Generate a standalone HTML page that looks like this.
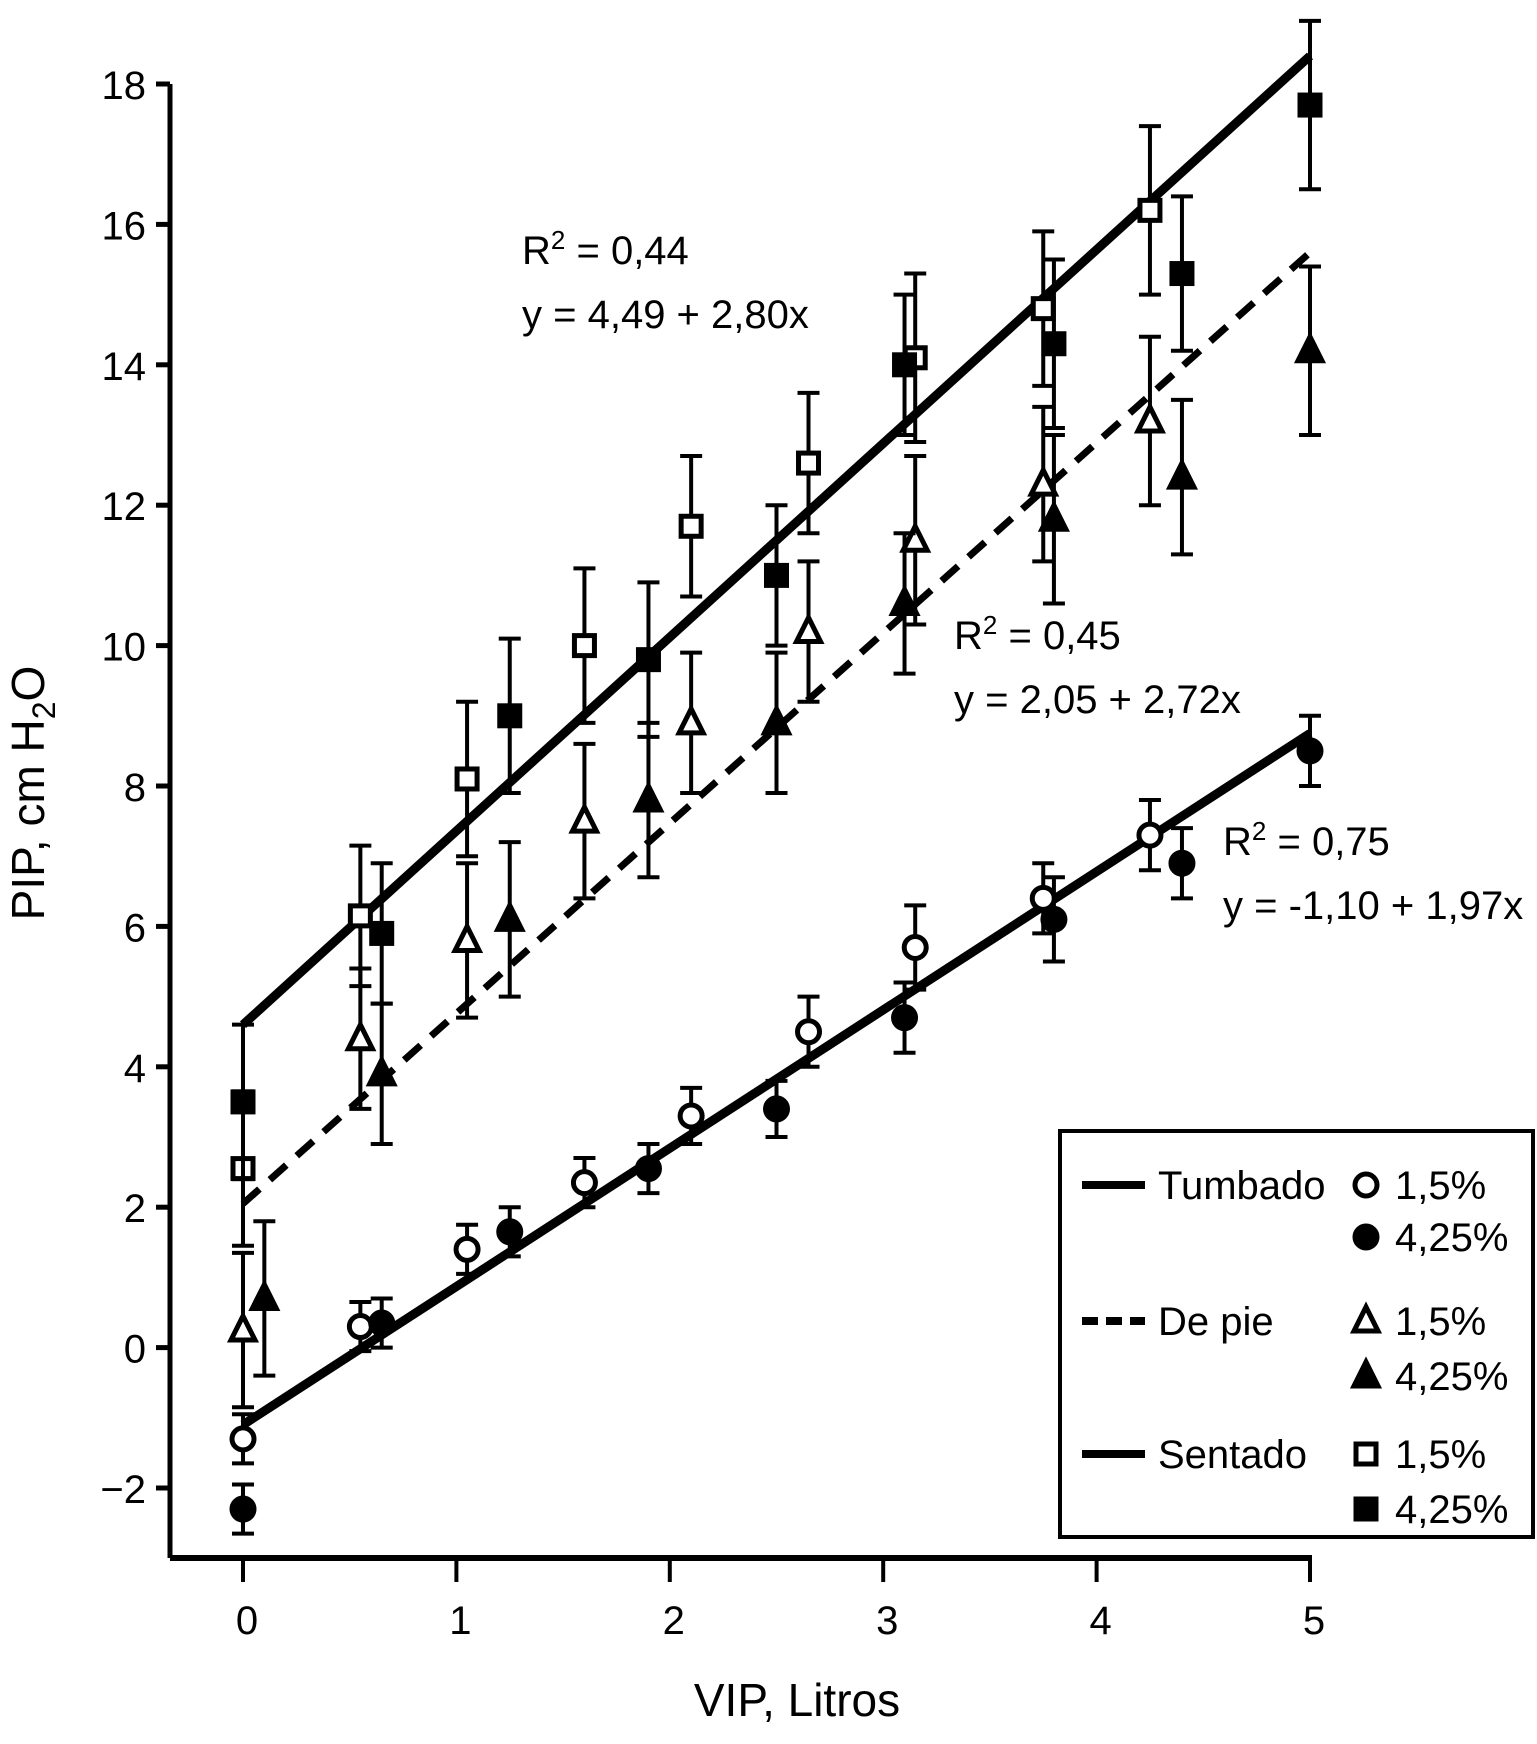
<!DOCTYPE html>
<html><head><meta charset="utf-8"><style>
body{margin:0;background:#fff;}
svg{display:block;font-family:"Liberation Sans",sans-serif;}
</style></head><body>
<svg id="chart" width="1537" height="1744" viewBox="0 0 1537 1744" xmlns="http://www.w3.org/2000/svg"></svg>
<script>
const xTicks=[0,1,2,3,4,5];
const yTicks=[-2,0,2,4,6,8,10,12,14,16,18];
const tumbXs15=[0,0.55,1.05,1.6,2.1,2.65,3.15,3.75,4.25];
const tumbYs15=[-1.3,0.3,1.4,2.35,3.3,4.5,5.7,6.4,7.3];
const tumbXs425=[0,0.65,1.25,1.9,2.5,3.1,3.8,4.4,5];
const tumbYs425=[-2.3,0.35,1.65,2.55,3.4,4.7,6.1,6.9,8.5];
const pieXs15=[0,0.55,1.05,1.6,2.1,2.65,3.15,3.75,4.25];
const pieYs15=[0.25,4.4,5.8,7.5,8.9,10.2,11.5,12.3,13.2];
const pieXs425=[0.1,0.65,1.25,1.9,2.5,3.1,3.8,4.4,5];
const pieYs425=[0.7,3.9,6.1,7.8,8.9,10.6,11.8,12.4,14.2];
const sentXs15=[0,0.55,1.05,1.6,2.1,2.65,3.15,3.75,4.25];
const sentYs15=[2.55,6.15,8.1,10,11.7,12.6,14.1,14.8,16.2];
const sentXs425=[0,0.65,1.25,1.9,2.5,3.1,3.8,4.4,5];
const sentYs425=[3.5,5.9,9,9.8,11,14,14.3,15.3,17.7];
const tumbErr=[0.35,0.35,0.35,0.35,0.4,0.5,0.6,0.5,0.5];
const bigErr=[1.1,1.0,1.1,1.1,1.0,1.0,1.2,1.1,1.2];
const fitIntercepts=[4.6,2.05,-1.1];
const fitEnds=[18.4,15.6,8.75];

const X=v=>243+v*213.4, Y=v=>84+(18-v)*70.2;
const svg=document.getElementById('chart');
const NS='http://www.w3.org/2000/svg';
function mk(t,a,p){const e=document.createElementNS(NS,t);for(const k in a)e.setAttribute(k,a[k]);(p||svg).appendChild(e);return e;}

const ax=mk('g',{});


mk('line',{x1:170,y1:84,x2:170,y2:1558,stroke:'#000','stroke-width':5},ax);
mk('line',{x1:170,y1:1558,x2:1312,y2:1558,stroke:'#000','stroke-width':6},ax);
yTicks.forEach(v=>{
 mk('line',{x1:156,y1:Y(v),x2:170,y2:Y(v),stroke:'#000','stroke-width':5},ax);
 const t=mk('text',{x:146,y:Y(v)+15,'text-anchor':'end','font-size':40},ax);
 t.textContent=v<0?'\u2212'+(-v):v;
 
 
});
xTicks.forEach(v=>{
 mk('line',{x1:X(v),y1:1558,x2:X(v),y2:1582,stroke:'#000','stroke-width':4},ax);
 const t=mk('text',{x:X(v)+4,y:1634,'text-anchor':'middle','font-size':40},ax);
 t.textContent=v;
 
 
});
const xt=mk('text',{x:797,y:1716,'text-anchor':'middle','font-size':46});
xt.textContent='VIP, Litros';


const yt=mk('text',{x:0,y:0,'text-anchor':'middle','font-size':46,transform:'translate(44,793) rotate(-90)'});
yt.innerHTML='PIP, cm H<tspan font-size="32" dy="11">2</tspan><tspan dy="-11">O</tspan>';



const fitNames=['fit-line-sentado','fit-line-de-pie','fit-line-tumbado'];
fitIntercepts.forEach((b,i)=>{
 const l=mk('line',{x1:X(0),y1:Y(b),x2:X(5),y2:Y(fitEnds[i]),stroke:'#000','stroke-width':i===1?7:9,'stroke-dasharray':i===1?'22,14':'none'});
 
 
});

function marker(type,filled,cx,cy,g){
 const st={fill:filled?'#000':'#fff',stroke:'#000','stroke-width':5};
 if(type==='c')mk('circle',Object.assign({cx,cy,r:11},st),g);
 else if(type==='t')mk('polygon',Object.assign({points:`${cx},${cy-14} ${cx-12},${cy+10} ${cx+12},${cy+10}`},st),g);
 else mk('rect',Object.assign({x:cx-10,y:cy-10,width:20,height:20},st),g);
}
function series(name,xs,ys,errs,type,filled){
 const g=mk('g',{});
 
 
 xs.forEach((x,i)=>{
  const cx=X(x),cy=Y(ys[i]),e=errs[i];
  mk('line',{x1:cx,y1:Y(ys[i]+e),x2:cx,y2:Y(ys[i]-e),stroke:'#000','stroke-width':4},g);
  mk('line',{x1:cx-11,y1:Y(ys[i]+e),x2:cx+11,y2:Y(ys[i]+e),stroke:'#000','stroke-width':4},g);
  mk('line',{x1:cx-11,y1:Y(ys[i]-e),x2:cx+11,y2:Y(ys[i]-e),stroke:'#000','stroke-width':4},g);
  marker(type,filled,cx,cy,g);
 });
}
series('tumbado-1-5-points',tumbXs15,tumbYs15,tumbErr,'c',false);
series('tumbado-4-25-points',tumbXs425,tumbYs425,tumbErr,'c',true);
series('de-pie-1-5-points',pieXs15,pieYs15,bigErr,'t',false);
series('de-pie-4-25-points',pieXs425,pieYs425,bigErr,'t',true);
series('sentado-1-5-points',sentXs15,sentYs15,bigErr,'s',false);
series('sentado-4-25-points',sentXs425,sentYs425,bigErr,'s',true);

function ann(name,x,y,r2,eq){
 const g=mk('g',{});
 
 
 const a=mk('text',{x,y,'font-size':40},g);
 a.innerHTML='R<tspan font-size="26" dy="-15">2</tspan><tspan dy="15"> = '+r2+'</tspan>';
 const b=mk('text',{x,y:y+64,'font-size':40},g);
 b.textContent=eq;
}
ann('annotation-sentado',522,264,'0,44','y = 4,49 + 2,80x');
ann('annotation-de-pie',954,649,'0,45','y = 2,05 + 2,72x');
ann('annotation-tumbado',1223,855,'0,75','y = -1,10 + 1,97x');

const lg=mk('g',{});


mk('rect',{x:1060,y:1131,width:473,height:406,fill:'#fff',stroke:'#000','stroke-width':4},lg);
const rows=[['Tumbado','c',false,1185],['','c',true,1237],['De pie','t',false,1321],['','t',true,1376],['Sentado','s',false,1454],['','s',true,1509]];
rows.forEach(r=>{
 const y=r[3];
 if(r[0]){
  mk('line',{x1:1082,y1:y,x2:1145,y2:y,stroke:'#000','stroke-width':8,'stroke-dasharray':r[0]==='De pie'?'16,8':'none'},lg);
  const t=mk('text',{x:1158,y:y+14,'font-size':40},lg);t.textContent=r[0];
  
  
 }
 marker(r[1],r[2],1366,y,lg);
 const p=mk('text',{x:1395,y:y+14,'font-size':40},lg);p.textContent=r[2]?'4,25%':'1,5%';
});
</script>
</body></html>
